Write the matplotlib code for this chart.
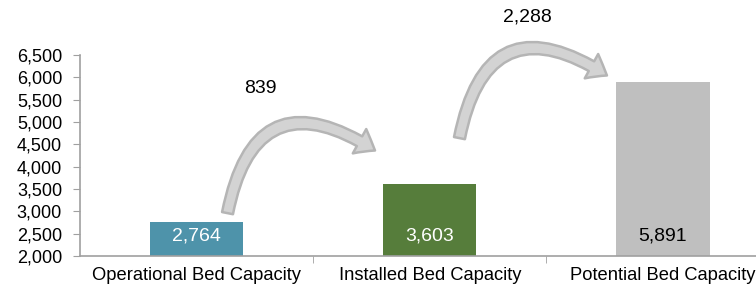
import matplotlib
matplotlib.use("Agg")
import matplotlib.pyplot as plt
from matplotlib.patches import FancyArrowPatch
from matplotlib.ticker import FuncFormatter, FixedLocator

plt.rcParams['font.family'] = ['Liberation Sans', 'DejaVu Sans']

# data
categories = ["Operational Bed Capacity", "Installed Bed Capacity", "Potential Bed Capacity"]
values = [2764, 3603, 5891]
increments = [839, 2288]
bar_colors = ["#4e93aa", "#567d3b", "#bfbfbf"]
label_colors = ["white", "white", "black"]

fig = plt.figure(figsize=(7.56, 2.90), dpi=100)
ax = fig.add_axes([0.106, 0.117, 0.925, 0.693])

x = list(range(len(categories)))
ax.bar(x, [v - 2000 for v in values], bottom=2000, width=0.4, color=bar_colors, zorder=2)

# value labels inside the bars, near the base
for i, v in enumerate(values):
    ax.text(i, 2450, f"{v:,}", ha="center", va="center", fontsize=14,
            color=label_colors[i], zorder=3)

ax.set_xlim(-0.5, 2.5)
ax.set_ylim(2000, 6500)
ax.set_yticks(range(2000, 6501, 500))
ax.yaxis.set_major_formatter(FuncFormatter(lambda v, p: f"{int(v):,}"))
ax.tick_params(axis="y", labelsize=13, length=5, color="#a0a0a0", pad=8)

ax.set_xticks(x)
ax.set_xticklabels(categories, fontsize=13.2)
ax.tick_params(axis="x", which="major", length=0, pad=8)
ax.xaxis.set_minor_locator(FixedLocator([0.5, 1.5]))
ax.tick_params(axis="x", which="minor", length=5, color="#a0a0a0")

for s in ["top", "right"]:
    ax.spines[s].set_visible(False)
for s in ["left", "bottom"]:
    ax.spines[s].set_color("#a0a0a0")
    ax.spines[s].set_linewidth(1.2)

# curved arrows showing the step between bars
arrows = [((0.13, 2900), (0.775, 4330)), ((1.125, 4580), (1.77, 6010))]
for (p0, p1) in arrows:
    arr = FancyArrowPatch(p0, p1, connectionstyle="arc3,rad=-0.75",
                          arrowstyle="simple,head_width=20,head_length=13,tail_width=8",
                          mutation_scale=1, facecolor="#d3d3d3", edgecolor="#b5b5b5",
                          linewidth=1.8, clip_on=False, zorder=4)
    ax.add_patch(arr)

label_pos = [(0.275, 5760), (1.42, 7350)]
for (lx, ly), inc in zip(label_pos, increments):
    ax.text(lx, ly, f"{inc:,}", ha="center", va="center", fontsize=14, clip_on=False)

fig.savefig("out.png", dpi=100)
